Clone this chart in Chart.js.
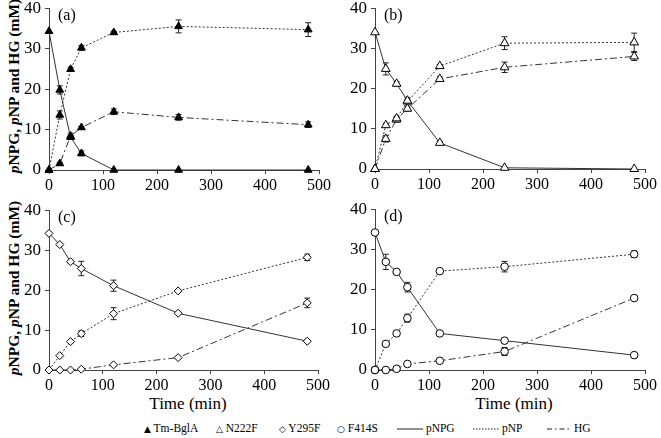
<!DOCTYPE html>
<html>
<head>
<meta charset="utf-8">
<script src="https://cdn.jsdelivr.net/npm/chart.js@4.4.0/dist/chart.umd.min.js"></script>
<style>
  body { margin: 0; background: #fff; width: 661px; height: 438px; position: relative; overflow: hidden;
         font-family: "Liberation Serif", "Times New Roman", serif; color: #000; }
  canvas { position: absolute; }
  .ytitle { position: absolute; font-weight: bold; font-size: 15.5px; white-space: nowrap;
            transform: translate(-50%, -50%) rotate(-90deg); }
  .xtitle { position: absolute; font-size: 17px; font-weight: normal; white-space: nowrap; transform: translate(-50%, -50%); }
  .leg { position: absolute; top: 428px; font-size: 11.5px; white-space: nowrap; transform: translateY(-50%); }
  .sym { font-family: "DejaVu Sans", sans-serif; font-size: 9px; }
</style>
</head>
<body>

<div class="ytitle" style="left:14px; top:86px"><i>p</i>NPG, <i>p</i>NP and HG (mM)</div>
<div class="ytitle" style="left:14px; top:288px"><i>p</i>NPG, <i>p</i>NP and HG (mM)</div>
<div class="xtitle" style="left:188px; top:404px">Time (min)</div>
<div class="xtitle" style="left:514px; top:404px">Time (min)</div>

<div class="leg" style="left:144px"><span class="sym">▲</span> Tm-BglA</div>
<div class="leg" style="left:216px"><span class="sym">△</span> N222F</div>
<div class="leg" style="left:279px"><span class="sym">◇</span> Y295F</div>
<div class="leg" style="left:337px"><span class="sym">○</span> F414S</div>
<div class="leg" style="left:397px"><svg width="26" height="6"><line x1="0" y1="3" x2="26" y2="3" stroke="#222" stroke-width="1"/></svg> pNPG</div>
<div class="leg" style="left:473px"><svg width="26" height="6"><line x1="0" y1="3" x2="26" y2="3" stroke="#222" stroke-width="1" stroke-dasharray="1.5,1.5"/></svg> pNP</div>
<div class="leg" style="left:547px"><svg width="24" height="6"><line x1="0" y1="3" x2="24" y2="3" stroke="#222" stroke-width="1" stroke-dasharray="5,3,1.5,3"/></svg> HG</div>

<script>
// ===== Data =====
const TIMES = [0, 20, 40, 60, 120, 240, 480];
const X_TICKS = [0, 100, 200, 300, 400, 500];
const Y_TICKS = [0, 10, 20, 30, 40];
const PANEL_LABELS = ["(a)", "(b)", "(c)", "(d)"];

// (a) Tm-BglA
const A_PNPG = [34.3, 19.8, 8.1, 4.1, 0, 0, 0];
const A_PNPG_ERR = [0, 1.0, 0.5, 0.6, 0, 0, 0];
const A_PNP = [0, 13.6, 24.9, 30.2, 34.0, 35.5, 34.7];
const A_PNP_ERR = [0, 1.0, 0.5, 0.6, 0.3, 1.6, 1.7];
const A_HG = [0, 1.6, 8.4, 10.5, 14.4, 13.0, 11.2];
const A_HG_ERR = [0, 0.3, 0.7, 0.3, 0.7, 0.7, 0.7];

// (b) N222F
const B_PNPG = [34.0, 24.9, 21.2, 17.0, 6.5, 0.3, 0];
const B_PNPG_ERR = [0, 1.5, 0.5, 0.8, 0.4, 0, 0];
const B_PNP = [0, 10.9, 12.6, 16.8, 25.6, 31.3, 31.5];
const B_PNP_ERR = [0, 0.5, 0.5, 0.5, 0.4, 1.6, 2.3];
const B_HG = [0, 7.5, 12.3, 15.0, 22.4, 25.3, 28.0];
const B_HG_ERR = [0, 0.8, 0.6, 0.6, 0.5, 1.3, 1.0];

// (c) Y295F
const C_PNPG = [34.2, 31.4, 27.1, 25.4, 21.1, 14.2, 7.2];
const C_PNPG_ERR = [0, 0, 0.3, 1.8, 1.4, 0, 0];
const C_PNP = [0, 3.6, 7.1, 9.1, 14.1, 19.8, 28.2];
const C_PNP_ERR = [0, 0, 0, 0.7, 1.5, 0, 0.8];
const C_HG = [0, 0, 0, 0.2, 1.3, 3.1, 16.8];
const C_HG_ERR = [0, 0, 0, 0, 0, 0, 1.2];

// (d) F414S
const D_PNPG = [34.2, 26.9, 24.4, 20.6, 9.1, 7.3, 3.7];
const D_PNPG_ERR = [0, 1.9, 0, 1.2, 0, 0, 0];
const D_PNP = [0, 6.5, 9.1, 12.9, 24.6, 25.7, 28.8];
const D_PNP_ERR = [0, 0, 0, 1.0, 0, 1.3, 0.8];
const D_HG = [0, 0, 0.3, 1.5, 2.3, 4.6, 17.9];
const D_HG_ERR = [0, 0, 0, 0, 0, 1.0, 0];

// ===== Helpers =====
const FONT = "'Liberation Serif', 'Times New Roman', serif";
const LINE_COLOR = "#333";

// error bars drawn through the chart scales, under the markers
const errorBars = {
  id: "errorBars",
  beforeDatasetsDraw(chart) {
    const { ctx, scales: { x, y } } = chart;
    ctx.save();
    ctx.strokeStyle = "#222";
    ctx.lineWidth = 1;
    chart.data.datasets.forEach(ds => {
      ds.data.forEach((p, i) => {
        const e = ds.errors[i];
        if (!e) return;
        const px = x.getPixelForValue(p.x);
        const y1 = y.getPixelForValue(p.y - e);
        const y2 = y.getPixelForValue(p.y + e);
        ctx.beginPath();
        ctx.moveTo(px, y1); ctx.lineTo(px, y2);
        ctx.moveTo(px - 3, y1); ctx.lineTo(px + 3, y1);
        ctx.moveTo(px - 3, y2); ctx.lineTo(px + 3, y2);
        ctx.stroke();
      });
    });
    ctx.restore();
  }
};

const panelLabel = {
  id: "panelLabel",
  afterDraw(chart, args, opts) {
    const { ctx, chartArea } = chart;
    ctx.save();
    ctx.font = "16px " + FONT;
    ctx.fillStyle = "#000";
    ctx.textBaseline = "middle";
    ctx.fillText(opts.text, chartArea.left + 9, chartArea.top + 8);
    ctx.restore();
  }
};

function series(vals, errs, dash, style, fill, radius) {
  return {
    data: TIMES.map((t, i) => ({ x: t, y: vals[i] })),
    errors: errs,
    borderColor: LINE_COLOR,
    borderWidth: 1,
    borderDash: dash,
    pointStyle: style,
    pointRadius: radius,
    pointBackgroundColor: fill,
    pointBorderColor: "#000",
    pointBorderWidth: 1,
    tension: 0,
    clip: false
  };
}

function makePanel(idx, box, sets, style, fill, radius) {
  const padL = 42, padT = 12, padR = 18, padB = 28;
  const cv = document.createElement("canvas");
  cv.style.left = (box.left - padL) + "px";
  cv.style.top = (box.top - padT) + "px";
  cv.width = box.w + padL + padR;
  cv.height = box.h + padT + padB;
  cv.style.width = cv.width + "px";
  cv.style.height = cv.height + "px";
  document.body.appendChild(cv);

  const axisCommon = {
    type: "linear",
    grid: { drawOnChartArea: false, drawTicks: true, tickLength: 4, color: "#444" },
    border: { display: true, color: "#444", width: 1 },
  };

  new Chart(cv.getContext("2d"), {
    type: "line",
    data: {
      datasets: [
        series(sets[0], sets[1], [], style, fill, radius),
        series(sets[2], sets[3], [2, 2], style, fill, radius),
        series(sets[4], sets[5], [7, 3, 2, 3], style, fill, radius)
      ]
    },
    options: {
      responsive: false,
      animation: false,
      devicePixelRatio: 1,
      layout: { padding: { top: padT, right: padR, left: 0, bottom: 0 } },
      plugins: {
        legend: { display: false },
        tooltip: { enabled: false },
        panelLabel: { text: PANEL_LABELS[idx] }
      },
      scales: {
        x: {
          ...axisCommon,
          min: 0, max: 500,
          afterBuildTicks: s => { s.ticks = X_TICKS.map(v => ({ value: v })); },
          afterFit: s => { s.height = padB; },
          ticks: { color: "#000", padding: 2, maxRotation: 0, font: { family: FONT, size: 16 } }
        },
        y: {
          ...axisCommon,
          min: 0, max: 40,
          afterBuildTicks: s => { s.ticks = Y_TICKS.map(v => ({ value: v })); },
          afterFit: s => { s.width = padL; },
          ticks: { color: "#000", padding: 4, font: { family: FONT, size: 17 } }
        }
      }
    },
    plugins: [errorBars, panelLabel]
  });
}

makePanel(0, { left: 49, top: 6, w: 270, h: 164 },
  [A_PNPG, A_PNPG_ERR, A_PNP, A_PNP_ERR, A_HG, A_HG_ERR], "triangle", "#000", 4.5);
makePanel(1, { left: 375, top: 6, w: 270, h: 163 },
  [B_PNPG, B_PNPG_ERR, B_PNP, B_PNP_ERR, B_HG, B_HG_ERR], "triangle", "#fff", 5);
makePanel(2, { left: 49, top: 208, w: 269, h: 162 },
  [C_PNPG, C_PNPG_ERR, C_PNP, C_PNP_ERR, C_HG, C_HG_ERR], "rectRot", "#fff", 4);
makePanel(3, { left: 375, top: 207, w: 270, h: 163 },
  [D_PNPG, D_PNPG_ERR, D_PNP, D_PNP_ERR, D_HG, D_HG_ERR], "circle", "#fff", 3.8);
</script>
</body>
</html>
